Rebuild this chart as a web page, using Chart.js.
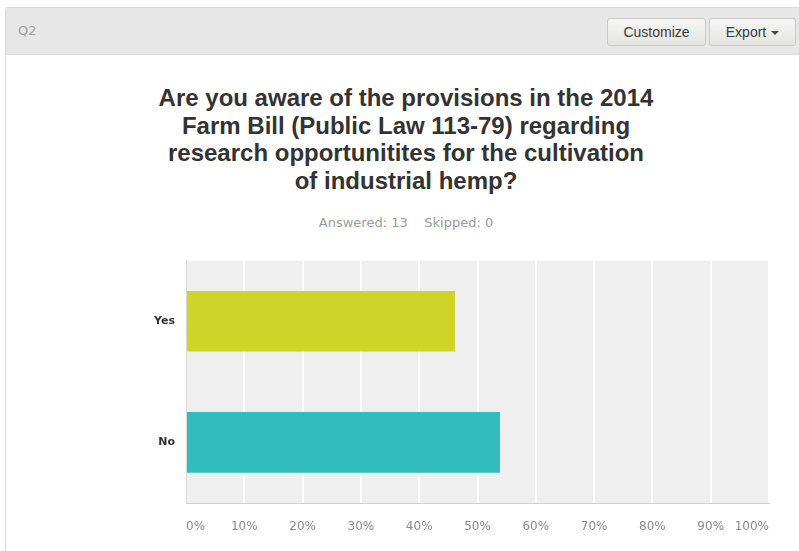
<!DOCTYPE html>
<html>
<head>
<meta charset="utf-8">
<title>Q2</title>
<script src="https://cdn.jsdelivr.net/npm/chart.js@4/dist/chart.umd.min.js"></script>
<style>
  html, body { margin: 0; padding: 0; background: #fff; }
  body { width: 799px; height: 551px; position: relative; overflow: hidden;
         font-family: "Liberation Sans", Arial, sans-serif; }
  .panel { position: absolute; left: 5px; top: 7px; width: 820px; height: 560px;
           border: 1px solid #dadada; border-radius: 3px 3px 0 0; }
  .head { position: absolute; left: 0; top: 0; right: 0; height: 46px;
          background: #e7e7e7; border-bottom: 1px solid #dcdcdc; }
  .qnum { position: absolute; left: 12px; top: 15px; font-size: 13px; color: #a0a0a0;
          font-family: "DejaVu Sans", sans-serif; }
  .btn { position: absolute; top: 10px; height: 26px; line-height: 26px;
         border: 1px solid #c9c9c9; border-radius: 3px; font-size: 14px; color: #3a3a3a;
         background: linear-gradient(#f6f6f4, #e4e4e0); text-align: center; }
  .btn .caret { display: inline-block; width: 0; height: 0; margin-left: 5px; vertical-align: middle;
                border-left: 4px solid transparent; border-right: 4px solid transparent;
                border-top: 4px solid #444; }
  .title { position: absolute; left: 5px; top: 84px; width: 802px; text-align: center;
           font-weight: bold; font-size: 24px; line-height: 27.7px; color: #333; }
  .stats { position: absolute; left: 5px; top: 215px; width: 802px; text-align: center;
           font-family: "DejaVu Sans", sans-serif; font-size: 13px; color: #9a9a9a; }
  #chart { position: absolute; left: 100px; top: 243px; }
</style>
</head>
<body>
<div class="panel">
  <div class="head">
    <div class="qnum">Q2</div>
    <div class="btn" style="left:601px;width:97px;">Customize</div>
    <div class="btn" style="left:703px;width:85px;">Export<span class="caret"></span></div>
  </div>
</div>
<div class="title">Are you aware of the provisions in the 2014<br>Farm Bill (Public Law 113-79) regarding<br>research opportunitites for the cultivation<br>of industrial hemp?</div>
<div class="stats">Answered: 13 &nbsp;&nbsp; Skipped: 0</div>
<canvas id="chart" width="686" height="300"></canvas>

<script>
/* dados da pergunta */
const categories = ['Yes', 'No'];
const responses  = [46.15, 53.85];
const barColors  = ['#d0d427', '#31bdbd'];

Chart.defaults.font.family = '"DejaVu Sans", Verdana, sans-serif';

/* fundo cinza da área do gráfico */
const plotBg = {
  id: 'plotBg',
  beforeDraw(chart) {
    const { ctx, chartArea: a } = chart;
    ctx.save();
    ctx.fillStyle = '#efefef';
    ctx.fillRect(a.left, a.top, a.right - a.left, a.bottom - a.top);
    ctx.restore();
  },
};

new Chart(document.getElementById('chart'), {
  type: 'bar',
  data: {
    labels: categories,
    datasets: [{
      data: responses,
      backgroundColor: barColors,
      borderWidth: 0,
      barPercentage: 0.5,
      categoryPercentage: 1,
    }],
  },
  options: {
    indexAxis: 'y',
    responsive: false,
    animation: false,
    layout: { padding: { top: 11, right: 12, left: 0, bottom: 0 } },
    plugins: {
      legend: { display: false },
      tooltip: { enabled: false },
    },
    scales: {
      x: {
        min: 0,
        max: 100,
        afterFit: s => { s.height = 40; },
        ticks: {
          stepSize: 10,
          autoSkip: false,
          maxRotation: 0,
          align: 'inner',
          padding: 17,
          color: '#8a8a8a',
          font: { size: 12 },
          callback: v => v + '%',
        },
        grid: { color: '#ffffff', lineWidth: 2, drawTicks: false },
        border: { display: true, color: '#cfcfcf', width: 1 },
      },
      y: {
        afterFit: s => { s.width = 86; },
        ticks: { color: '#333', padding: 11, font: { size: 11, weight: 'bold' } },
        grid: { display: false, drawTicks: false },
        border: { display: true, color: '#dadada', width: 1 },
      },
    },
  },
  plugins: [plotBg],
});
</script>
</body>
</html>
